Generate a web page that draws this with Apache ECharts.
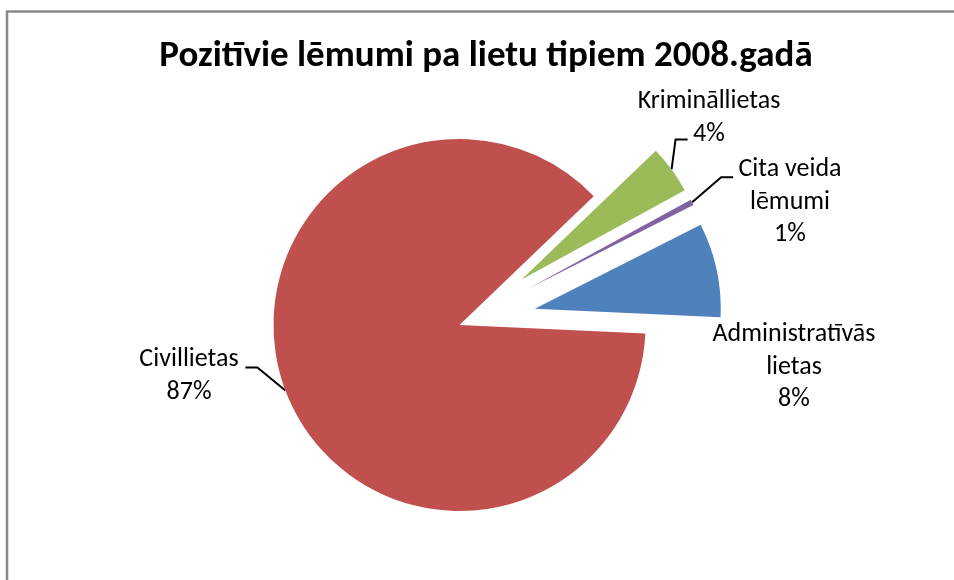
<!DOCTYPE html>
<html>
<head>
<meta charset="utf-8">
<title>Pozitīvie lēmumi pa lietu tipiem 2008.gadā</title>
<script src="https://cdn.jsdelivr.net/npm/echarts@6/dist/echarts.min.js"></script>
<style>
	html, body { margin: 0; padding: 0; background: #fff; }
	#pieCharts { width: 954px; height: 580px; }
</style>
</head>
<body>
<div id="pieCharts"></div>
<script>
	// dati (procenti nolasīti no attēla)
	var titleText = 'Pozitīvie lēmumi pa lietu tipiem 2008.gadā';
	var categories = ['Administratīvās lietas', 'Civillietas', 'Krimināllietas', 'Cita veida lēmumi'];
	var shares = [8.2, 87.1, 4.2, 0.5];

	// izskats
	var colors = ['#4F81BD', '#C0504D', '#9BBB59', '#8064A2'];
	var font = 'Carlito, Calibri, "Liberation Sans", sans-serif';
	var cx = 459.5, cy = 325, radius = 186, startAngle = 26.9;
	var explode = [77, 0, 77, 77];
	var labelCenters = [[794, 367], [189, 376], [709, 118], [790, 202]];
	var leaders = [null, [[-28, -23], [-40, -23]], [[4, -30], [16, -30]], [[29, -25], [41, -25]]];

	var total = shares.reduce(function (a, b) { return a + b; }, 0);

	function midAngle(i) {
		var before = 0;
		for (var j = 0; j < i; j++) before += shares[j];
		return (startAngle - (before + shares[i] / 2) / total * 360) * Math.PI / 180;
	}

	function wrapName(name) {
		var k = name.lastIndexOf(' ');
		return k < 0 ? name : name.slice(0, k) + '\n' + name.slice(k + 1);
	}

	/*katrs sektors savā sērijā, lai varētu izbīdīt atsevišķi*/
	var series = categories.map(function (name, k) {
		var a = midAngle(k),
				ox = cx + explode[k] * Math.cos(a),
				oy = cy - explode[k] * Math.sin(a);
		return {
			type: 'pie',
			center: [ox, oy],
			radius: radius,
			startAngle: startAngle,
			clockwise: true,
			avoidLabelOverlap: false,
			silent: true,
			animation: false,
			label: { show: false },
			labelLine: { show: false },
			data: categories.map(function (n, i) {
				var own = i === k;
				return {
					name: n,
					value: shares[i],
					itemStyle: { color: own ? colors[i] : 'rgba(0,0,0,0)', borderWidth: 0 },
					label: {
						show: own,
						position: 'outside',
						color: '#000',
						fontFamily: font,
						fontSize: 26,
						lineHeight: 32.5,
						formatter: function (p) {
							return wrapName(p.name) + '\n' + Math.round(p.percent) + '%';
						}
					},
					labelLine: {
						show: own && !!leaders[i],
						lineStyle: { color: '#000', width: 2 }
					}
				};
			}),
			labelLayout: function (p) {
				if (p.dataIndex !== k) return {};
				var c = labelCenters[k],
						res = { x: c[0], y: c[1], align: 'center', verticalAlign: 'middle' };
				if (leaders[k]) {
					var sx = ox + radius * Math.cos(a),
							sy = oy - radius * Math.sin(a);
					res.labelLinePoints = [[sx, sy]].concat(leaders[k].map(function (d) {
						return [sx + d[0], sy + d[1]];
					}));
				}
				return res;
			}
		};
	});

	var myChart = echarts.init(document.getElementById('pieCharts')),
			option = {
				backgroundColor: '#fff',
				animation: false,
				graphic: [{
					type: 'rect',
					silent: true,
					shape: { x: 7, y: 11.5, width: 1000, height: 1000 },
					style: { fill: 'none', stroke: '#888', lineWidth: 2.5 }
				}, {
					type: 'text',
					silent: true,
					x: 486,
					y: 57,
					style: {
						text: titleText,
						fill: '#000',
						fontFamily: font,
						fontWeight: 'bold',
						fontSize: 37,
						align: 'center',
						verticalAlign: 'middle'
					}
				}],
				series: series
			};
	myChart.setOption(option);
</script>
</body>
</html>
